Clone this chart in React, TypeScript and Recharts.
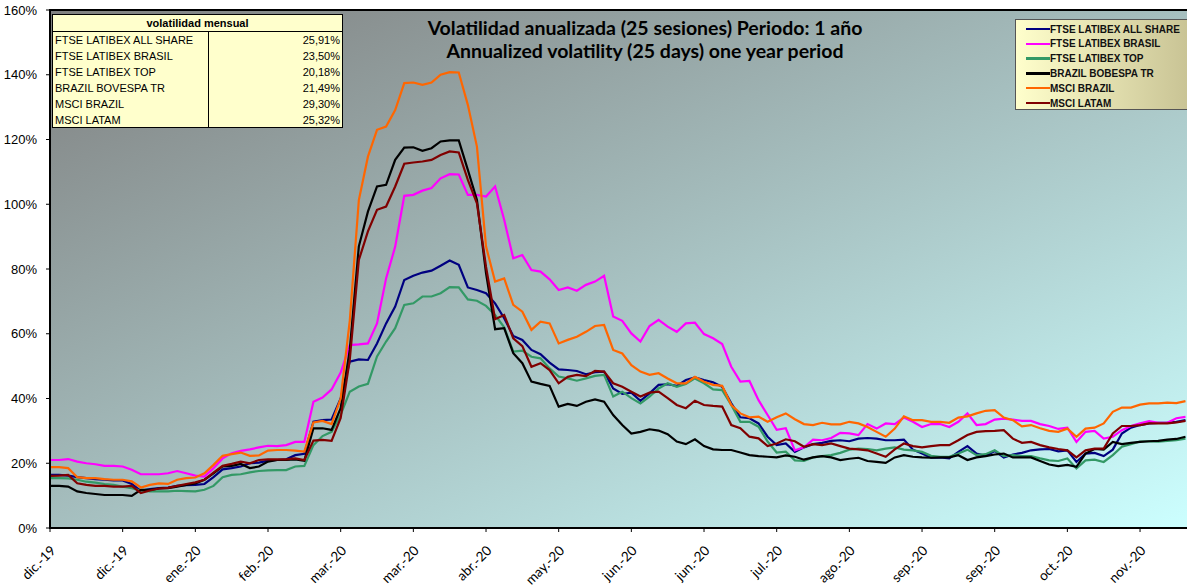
import React from "react";
import { LineChart, Line, XAxis, YAxis, ReferenceArea } from "recharts";

// tick every 8 points (~ every 8 sessions)
const STEP = 8;
const tickLabels = [
  "dic.-19", "dic.-19", "ene.-20", "feb.-20", "mar.-20", "mar.-20", "abr.-20", "may.-20",
  "jun.-20", "jun.-20", "jul.-20", "ago.-20", "sep.-20", "sep.-20", "oct.-20", "nov.-20",
];
const yTicks = [0, 20, 40, 60, 80, 100, 120, 140, 160];

const allShare = [
  16.4, 16.4, 16.2, 15.7, 15.4, 15.1, 14.9, 14.7, 14.7, 13.6,
  11.5, 12.0, 12.3, 12.5, 13.0, 13.2, 13.3, 13.6, 15.7, 18.1,
  18.5, 19.0, 20.0, 20.2, 20.8, 21.0, 21.2, 22.5, 22.9, 32.8,
  33.3, 33.5, 40.0, 51.4, 52.1, 51.9, 57.0, 63.2, 68.4, 76.6,
  77.9, 78.9, 79.5, 81.0, 82.6, 81.3, 74.3, 73.5, 72.5, 69.4,
  64.8, 59.3, 58.1, 55.0, 53.7, 51.1, 49.0, 48.8, 48.5, 47.5,
  48.1, 48.3, 43.1, 41.4, 41.8, 39.3, 41.6, 44.2, 44.4, 43.9,
  45.7, 46.5, 45.7, 45.0, 43.6, 38.5, 34.2, 33.9, 32.3, 28.2,
  25.6, 26.1, 23.5, 24.9, 25.9, 26.3, 26.9, 27.1, 26.8, 27.6,
  27.8, 27.6, 27.1, 27.1, 27.3, 24.2, 23.0, 21.7, 21.8, 21.5,
  23.5, 25.3, 23.0, 22.3, 23.8, 21.8, 22.7, 23.2, 24.0, 24.3,
  24.4, 23.7, 24.0, 20.4, 23.0, 23.2, 22.2, 24.2, 29.2, 31.0,
  31.8, 32.3, 32.5, 32.5, 32.8, 33.3,
];

const brasil = [
  21.0, 21.0, 21.3, 20.5, 20.0, 19.7, 19.2, 19.2, 19.0, 18.0,
  16.6, 16.6, 16.6, 16.9, 17.6, 16.9, 16.2, 15.9, 18.5, 21.5,
  23.1, 23.8, 24.3, 24.9, 25.4, 25.3, 25.6, 26.6, 26.6, 39.0,
  40.3, 42.8, 48.0, 56.5, 56.7, 57.0, 63.2, 77.1, 86.9, 102.6,
  102.9, 104.2, 105.0, 108.0, 109.3, 109.2, 102.9, 102.9, 102.4, 105.5,
  95.2, 83.3, 84.3, 79.7, 79.2, 76.8, 73.5, 74.3, 73.3, 75.1,
  76.1, 77.9, 65.3, 64.0, 60.1, 57.6, 62.4, 64.3, 62.2, 60.6,
  63.2, 63.4, 59.9, 58.6, 56.8, 49.8, 45.2, 45.4, 39.5, 34.9,
  30.3, 30.8, 24.0, 24.9, 27.3, 27.1, 27.8, 29.4, 29.2, 28.7,
  32.1, 30.7, 32.3, 32.1, 34.1, 32.8, 31.2, 32.1, 32.1, 31.2,
  32.8, 35.4, 31.8, 32.1, 33.5, 33.8, 33.5, 33.1, 33.1, 32.1,
  31.5, 30.6, 31.0, 26.6, 29.7, 30.0, 27.6, 28.2, 30.2, 31.5,
  32.3, 33.0, 32.5, 32.5, 33.9, 34.3,
];

const top = [
  15.4, 15.4, 15.3, 14.9, 14.3, 14.0, 13.6, 13.3, 12.8, 12.3,
  11.5, 11.3, 11.3, 11.3, 11.5, 11.4, 11.3, 11.8, 13.0, 15.7,
  16.4, 16.6, 17.2, 17.6, 17.8, 17.9, 17.9, 19.0, 19.2, 25.6,
  28.4, 29.7, 35.0, 42.1, 43.7, 44.5, 53.0, 57.6, 61.7, 68.9,
  69.4, 71.5, 71.5, 72.5, 74.4, 74.3, 70.6, 70.2, 68.6, 65.8,
  62.0, 54.5, 54.8, 52.9, 52.4, 49.3, 46.8, 46.2, 45.5, 46.2,
  47.0, 47.3, 40.6, 42.1, 40.1, 38.5, 40.6, 43.1, 44.7, 43.6,
  44.5, 46.2, 44.7, 42.8, 42.6, 38.0, 32.8, 32.8, 31.3, 26.7,
  23.3, 23.6, 20.9, 20.7, 21.8, 22.2, 22.5, 23.2, 24.2, 24.5,
  24.4, 24.0, 24.5, 24.9, 24.2, 24.0, 23.5, 22.3, 22.0, 22.0,
  23.0, 24.2, 22.5, 22.8, 24.0, 22.2, 22.5, 22.2, 22.2, 21.5,
  20.9, 20.7, 21.5, 18.4, 20.9, 21.1, 20.4, 22.5, 25.1, 25.9,
  26.7, 26.8, 26.7, 26.9, 27.1, 27.6,
];

const bovespa = [
  13.0, 13.0, 12.8, 11.3, 10.8, 10.5, 10.2, 10.2, 10.2, 9.9,
  11.8, 11.8, 12.2, 12.3, 12.8, 13.3, 13.8, 14.9, 16.9, 19.0,
  19.2, 19.8, 18.5, 19.0, 20.5, 21.0, 21.0, 21.2, 20.8, 30.8,
  30.8, 30.3, 37.0, 55.0, 87.0, 97.7, 105.5, 106.0, 113.7, 117.5,
  117.6, 116.5, 117.3, 119.4, 119.7, 119.7, 110.6, 101.3, 78.7, 61.4,
  61.7, 54.0, 50.9, 45.2, 44.5, 43.9, 37.5, 38.3, 37.7, 39.0,
  39.7, 39.0, 34.9, 31.8, 29.2, 29.7, 30.5, 30.1, 29.0, 26.7,
  25.9, 27.4, 25.3, 24.3, 24.1, 24.1, 23.3, 22.5, 22.2, 22.0,
  21.8, 22.4, 22.0, 21.1, 21.8, 22.2, 21.8, 21.0, 21.4, 21.7,
  20.7, 20.4, 20.1, 21.8, 22.5, 22.0, 21.8, 21.7, 21.8, 21.8,
  22.5, 21.0, 21.8, 22.2, 22.7, 23.0, 21.8, 21.8, 21.8, 20.7,
  19.6, 19.1, 19.5, 18.9, 23.0, 24.4, 24.2, 26.6, 25.9, 26.3,
  26.6, 26.8, 26.9, 27.3, 27.5, 28.2,
];

const msciBrazil = [
  18.8, 18.8, 18.5, 15.7, 15.4, 15.4, 15.1, 14.9, 14.9, 14.4,
  12.5, 13.3, 13.8, 13.6, 14.9, 15.4, 15.6, 16.9, 19.5, 22.3,
  22.8, 23.3, 22.3, 22.4, 23.9, 24.1, 24.1, 23.9, 23.6, 32.6,
  33.1, 32.1, 40.0, 64.0, 101.3, 114.7, 123.0, 124.0, 129.1, 137.4,
  137.6, 136.9, 137.6, 140.0, 140.8, 140.7, 130.7, 117.8, 87.0, 76.1,
  77.1, 68.9, 66.8, 61.2, 63.7, 63.2, 57.0, 58.1, 59.1, 60.6,
  62.4, 62.7, 55.0, 53.9, 50.3, 48.3, 47.3, 47.8, 46.2, 44.7,
  44.7, 46.7, 45.2, 44.2, 43.9, 38.0, 35.4, 34.2, 34.4, 32.8,
  34.2, 35.4, 33.6, 32.1, 31.8, 32.5, 32.0, 32.0, 32.8, 32.3,
  31.2, 29.7, 28.2, 30.7, 34.5, 33.3, 33.3, 32.8, 32.8, 32.5,
  34.1, 34.5, 35.4, 36.2, 36.4, 34.1, 33.3, 31.4, 31.8, 30.8,
  30.0, 29.7, 30.7, 28.2, 30.7, 31.0, 32.3, 35.9, 37.2, 37.2,
  38.1, 38.5, 38.5, 38.7, 38.6, 39.2,
];

const msciLatam = [
  16.1, 16.2, 16.4, 13.8, 13.3, 13.0, 13.0, 12.8, 12.8, 13.0,
  10.8, 11.6, 12.2, 12.4, 13.0, 13.6, 14.1, 14.9, 17.1, 19.2,
  19.8, 20.5, 20.0, 21.0, 21.2, 21.2, 21.2, 21.5, 21.0, 27.0,
  27.2, 26.9, 34.0, 51.9, 82.8, 91.6, 98.3, 99.3, 105.5, 112.5,
  112.9, 113.2, 113.7, 115.2, 116.3, 116.0, 107.5, 100.3, 80.7, 64.5,
  65.8, 58.6, 56.2, 49.8, 50.9, 48.8, 44.7, 46.7, 47.3, 46.9,
  48.5, 48.3, 44.7, 43.6, 42.1, 40.6, 41.8, 42.1, 40.1, 38.0,
  37.0, 39.3, 38.0, 37.7, 37.5, 31.8, 30.8, 28.2, 27.7, 25.3,
  26.1, 27.4, 26.8, 25.1, 25.9, 25.6, 26.1, 25.3, 24.5, 24.3,
  24.0, 23.0, 22.0, 24.3, 26.1, 25.3, 24.9, 25.3, 25.6, 25.6,
  27.1, 28.7, 29.7, 29.9, 30.0, 30.2, 27.6, 26.3, 26.6, 25.6,
  24.9, 24.4, 24.0, 21.8, 24.0, 24.5, 24.5, 29.2, 31.5, 31.5,
  31.8, 32.3, 32.3, 32.3, 32.6, 33.1,
];

// monthly volatility box
const tableNames = [
  "FTSE LATIBEX ALL SHARE", "FTSE LATIBEX BRASIL", "FTSE LATIBEX TOP",
  "BRAZIL BOVESPA TR", "MSCI BRAZIL", "MSCI LATAM",
];
const tableValues = ["25,91%", "23,50%", "20,18%", "21,49%", "29,30%", "25,32%"];

const series = [
  { key: "allShare", name: "FTSE LATIBEX ALL SHARE", color: "#000080" },
  { key: "brasil", name: "FTSE LATIBEX BRASIL", color: "#ff00ff" },
  { key: "top", name: "FTSE LATIBEX TOP", color: "#339966" },
  { key: "bovespa", name: "BRAZIL BOBESPA TR", color: "#000000" },
  { key: "msciBrazil", name: "MSCI BRAZIL", color: "#ff6600" },
  { key: "msciLatam", name: "MSCI LATAM", color: "#800000" },
];

const data = allShare.map((v, i) => ({
  i,
  allShare: v,
  brasil: brasil[i],
  top: top[i],
  bovespa: bovespa[i],
  msciBrazil: msciBrazil[i],
  msciLatam: msciLatam[i],
}));

const X_MAX = 125.5;
const xTicks = tickLabels.map((_, k) => k * STEP);

const XTick = ({ x, y, payload }: any) => {
  const lx = x + 3;
  const ly = y + 14;
  return (
    <text
      x={lx}
      y={ly}
      transform={`rotate(-45 ${lx} ${ly})`}
      textAnchor="end"
      dominantBaseline="central"
      fontSize={13.5}
      fontFamily="Lato, sans-serif"
      fill="#000"
    >
      {tickLabels[Math.round(payload.value / STEP)]}
    </text>
  );
};

const arial = "'Liberation Sans', Arial, sans-serif";

export default function App() {
  return (
    <div style={{ position: "absolute", left: 0, top: 0, width: 1187, height: 587, overflow: "hidden", background: "#fff" }}>
      <LineChart width={1190} height={587} data={data} margin={{ top: 10, right: 0, bottom: 9, left: 0 }}>
        <defs>
          <linearGradient id="plotBg" x1="0" y1="0" x2="1" y2="1">
            <stop offset="0%" stopColor="#7f7f7f" />
            <stop offset="100%" stopColor="#ccffff" />
          </linearGradient>
        </defs>
        <XAxis
          type="number"
          dataKey="i"
          domain={[0, X_MAX]}
          ticks={xTicks}
          interval={0}
          allowDataOverflow
          height={50}
          tickSize={4}
          tickMargin={2}
          axisLine={{ stroke: "#000", strokeWidth: 2 }}
          tickLine={{ stroke: "#000" }}
          tick={<XTick />}
        />
        <YAxis
          domain={[0, 160]}
          ticks={yTicks}
          interval={0}
          width={50}
          tickSize={4}
          tickMargin={9}
          tickFormatter={(v) => `${v}%`}
          axisLine={{ stroke: "#000", strokeWidth: 2 }}
          tickLine={{ stroke: "#000" }}
          tick={{ fontSize: 13, fill: "#000", fontFamily: arial }}
        />
        <ReferenceArea x1={0} x2={X_MAX} y1={0} y2={160} fill="url(#plotBg)" fillOpacity={1} stroke="#000" strokeWidth={2} />
        {series.map((s) => (
          <Line
            key={s.key}
            type="linear"
            dataKey={s.key}
            name={s.name}
            stroke={s.color}
            strokeWidth={2.2}
            dot={false}
            isAnimationActive={false}
          />
        ))}
      </LineChart>

      <svg width={1187} height={80} style={{ position: "absolute", left: 0, top: 0, pointerEvents: "none" }}>
        <text x={645} y={35} textAnchor="middle" fontFamily="Lato, sans-serif" fontWeight={700} fontSize={19.5} fill="#000">
          Volatilidad anualizada (25 sesiones) Periodo: 1 año
        </text>
        <text x={645} y={58} textAnchor="middle" fontFamily="Lato, sans-serif" fontWeight={700} fontSize={19.5} fill="#000">
          Annualized volatility (25 days) one year period
        </text>
      </svg>

      <div
        style={{
          position: "absolute", left: 52, top: 14, width: 289, height: 112,
          background: "#ffffcc", border: "1px solid #000", fontFamily: arial, fontSize: 11, color: "#000",
        }}
      >
        <div style={{ height: 16, lineHeight: "16px", textAlign: "center", fontWeight: 700, borderBottom: "1px solid #000" }}>
          volatilidad mensual
        </div>
        <div style={{ position: "absolute", left: 155, top: 17, bottom: 0, borderLeft: "1px solid #000" }} />
        {tableNames.map((n, k) => (
          <div key={n} style={{ display: "flex", height: 16, lineHeight: "16px" }}>
            <div style={{ width: 155, paddingLeft: 2 }}>{n}</div>
            <div style={{ flex: 1, textAlign: "right", paddingRight: 2 }}>{tableValues[k]}</div>
          </div>
        ))}
      </div>

      <div
        style={{
          position: "absolute", left: 1015, top: 19, width: 190, height: 89,
          background: "linear-gradient(to right, #ffffcc, #c3bd8f)", border: "1px solid #555",
          fontFamily: arial, fontSize: 10, fontWeight: 700, color: "#111",
        }}
      >
        {series.map((s, k) => (
          <div key={s.key} style={{ position: "absolute", left: 10, top: 2 + k * 14.8, height: 14, display: "flex", alignItems: "center" }}>
            <div style={{ width: 24, height: 2.5, background: s.color }} />
            <span>{s.name}</span>
          </div>
        ))}
      </div>
    </div>
  );
}
